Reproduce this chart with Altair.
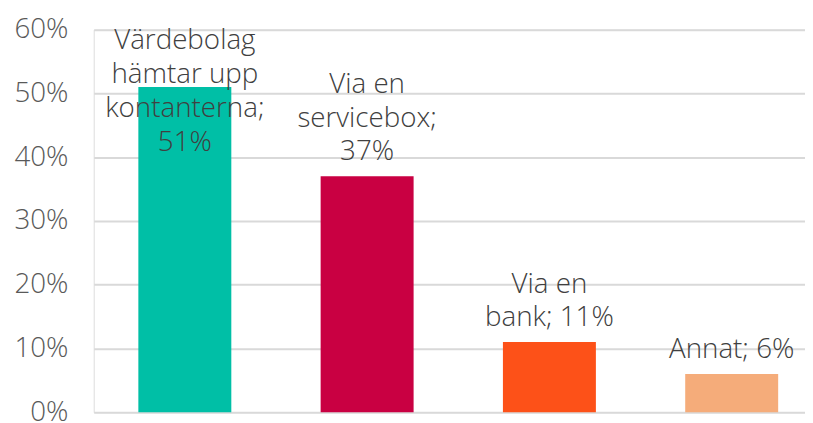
import altair as alt
import pandas as pd

categories = ["Värdebolag hämtar upp kontanterna", "Via en servicebox", "Via en bank", "Annat"]
values = [0.51, 0.37, 0.11, 0.06]
label_lines = [
    ["Värdebolag", "hämtar upp", "kontanterna;", "51%"],
    ["Via en", "servicebox;", "37%"],
    ["Via en", "bank; 11%"],
    ["Annat; 6%"],
]
colors = ["#00BFA6", "#C90042", "#FD5118", "#F5AC7A"]
y_ticks = [0, 0.1, 0.2, 0.3, 0.4, 0.5, 0.6]

df = pd.DataFrame({"cat": categories, "value": values, "label": label_lines, "idx": list(range(4))})

FONT = "Open Sans"
LH = 34
FS = 28

x = alt.X("cat:N", sort=categories, axis=None,
          scale=alt.Scale(range=[0, 736], paddingInner=0.49, paddingOuter=0.245))
y = alt.Y("value:Q", scale=alt.Scale(domain=[0, 0.6]),
          axis=alt.Axis(values=y_ticks, format=".0%", title=None, domain=False, ticks=False,
                        labelFont=FONT, labelFontSize=FS, labelFontWeight=300, labelColor="#595959",
                        labelPadding=26, gridColor="#D9D9D9", gridWidth=2))

bars = alt.Chart(df).mark_bar().encode(
    x=x, y=y,
    color=alt.Color("cat:N", sort=categories, scale=alt.Scale(domain=categories, range=colors), legend=None),
)

text_common = dict(font=FONT, fontSize=FS, fontWeight=300, color="#404040", align="center",
                   baseline="bottom", lineHeight=LH)

layers = [bars]
for i, lines in enumerate(label_lines):
    n = len(lines)
    if i == 0:
        dy = 70 - (n - 1) * LH
    else:
        dy = -10 - (n - 1) * LH
    layers.append(
        alt.Chart(df).transform_filter(f"datum.idx == {i}").mark_text(dy=dy, **text_common).encode(
            x=x, y=alt.Y("value:Q"), text="label")
    )

chart = alt.layer(*layers).properties(
    width=718, height=386,
    autosize=alt.AutoSizeParams(type="none"),
    padding={"left": 86.5, "top": 20, "right": 0, "bottom": 8},
).configure_view(stroke=None).configure(background="white")

chart.save("out.html", embed_options={"renderer": "svg", "actions": False})
